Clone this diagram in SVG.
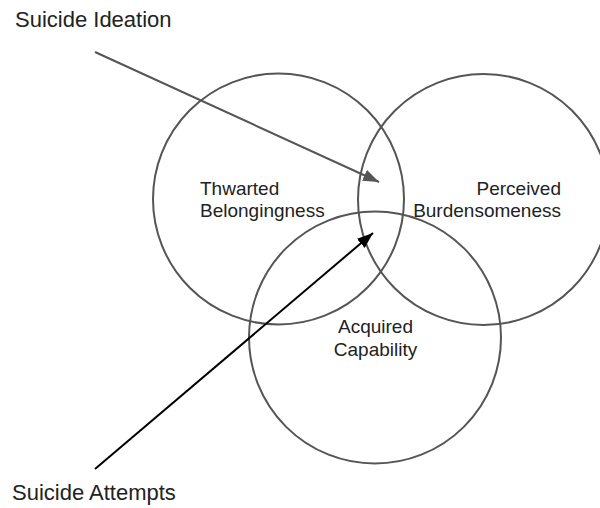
<svg xmlns="http://www.w3.org/2000/svg" width="600" height="508" viewBox="0 0 600 508">
<style>
.c{fill:none;stroke:#555;stroke-width:2}
.t{font-family:"Liberation Sans",Arial,sans-serif;fill:#222}
.lbl{font-size:19px}
.big{font-size:22px}
</style>
<defs>
<marker id="ag" markerUnits="userSpaceOnUse" markerWidth="18" markerHeight="12" refX="16" refY="6" orient="auto"><path d="M0,0 L16,6 L0,12 z" fill="#555"/></marker>
<marker id="ab" markerUnits="userSpaceOnUse" markerWidth="18" markerHeight="12" refX="16" refY="6" orient="auto"><path d="M0,0 L16,6 L0,12 z" fill="#000"/></marker>
</defs>
<rect width="600" height="508" fill="#fff"/>
<g id="thwarted">
<circle class="c" cx="278.5" cy="199" r="125.5"/>
<text class="t lbl" x="200" y="195">Thwarted</text>
<text class="t lbl" x="200" y="217">Belongingness</text>
</g>
<g id="perceived">
<circle class="c" cx="483.5" cy="199.5" r="125.5"/>
<text class="t lbl" x="561" y="195" text-anchor="end">Perceived</text>
<text class="t lbl" x="561" y="217" text-anchor="end">Burdensomeness</text>
</g>
<g id="acquired">
<circle class="c" cx="375" cy="337.5" r="126"/>
<text class="t lbl" x="375.5" y="333" text-anchor="middle">Acquired</text>
<text class="t lbl" x="375.5" y="356" text-anchor="middle">Capability</text>
</g>
<g id="ideation">
<text class="t big" x="15" y="27">Suicide Ideation</text>
</g>
<g id="attempts">
<text class="t big" x="12" y="500">Suicide Attempts</text>
</g>
<g id="connectors">
<line x1="95" y1="52" x2="379" y2="182" stroke="#555" stroke-width="2" marker-end="url(#ag)"/>
<line x1="95" y1="469" x2="373" y2="233" stroke="#000" stroke-width="2" marker-end="url(#ab)"/>
</g>
</svg>
